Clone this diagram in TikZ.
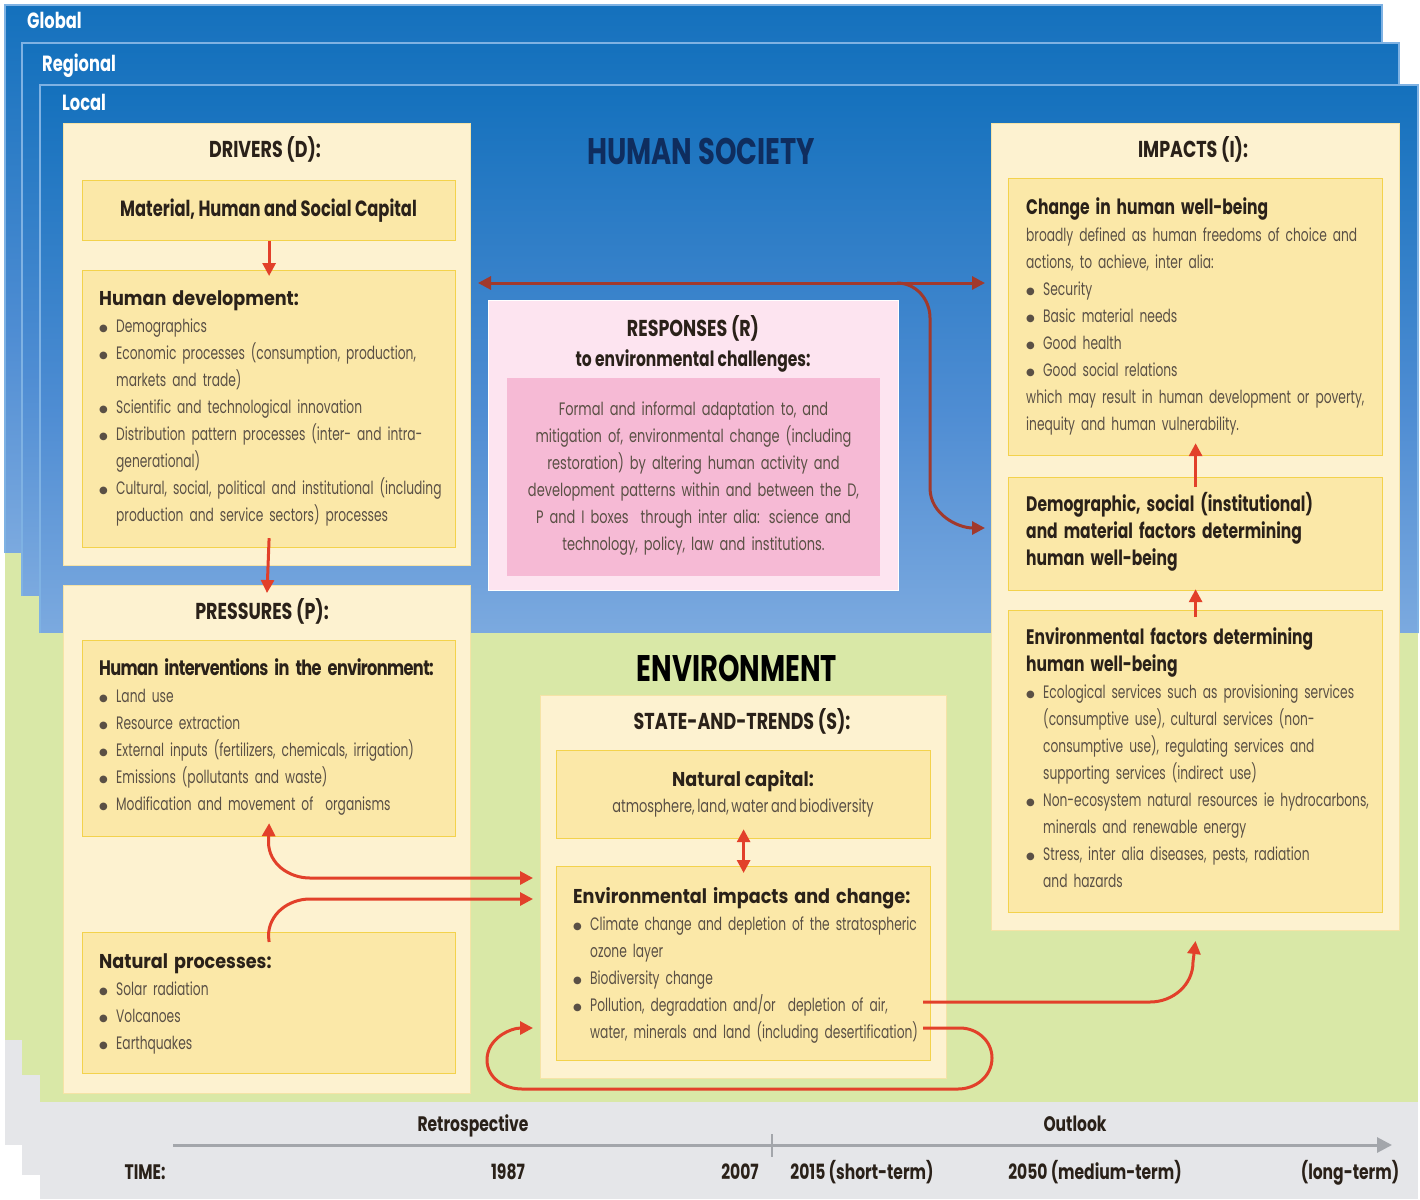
\documentclass[tikz,border=0pt]{standalone}
\usepackage{fontspec}
\usetikzlibrary{arrows.meta,calc}
\setmainfont{Poppins}
\newfontfamily\cond[FakeStretch=0.68,WordSpace=0.75]{Poppins}
\newfontfamily\condr[FakeStretch=0.72,WordSpace=0.75]{Poppins}
\newfontfamily\condb[FakeStretch=0.74]{Poppins}
\newfontfamily\headb[FakeStretch=0.76]{Poppins}
\newfontfamily\wideb[FakeStretch=0.88]{Poppins}
\newfontfamily\tightb[FakeStretch=0.77,LetterSpace=-3]{Poppins}
\newfontfamily\dejavu{DejaVu Sans}
\definecolor{skydeep}{HTML}{0A6CB9}
\definecolor{skymid}{HTML}{4F8DD3}
\definecolor{skylight}{HTML}{B3CDEE}
\definecolor{envgreen}{HTML}{D9E8A7}
\definecolor{timegray}{HTML}{E5E6E9}
\definecolor{sheetedge}{HTML}{7FB2E3}
\definecolor{boxout}{HTML}{FDF2D0}
\definecolor{boxoutedge}{HTML}{F5E3A6}
\definecolor{boxin}{HTML}{FBE8A8}
\definecolor{boxinedge}{HTML}{F3D24C}
\definecolor{pinkout}{HTML}{FDE4F0}
\definecolor{pinkin}{HTML}{F6BAD5}
\definecolor{txt}{HTML}{5A5045}
\definecolor{txtb}{HTML}{2A2119}
\definecolor{navy}{HTML}{0F2D5E}
\definecolor{arrred}{HTML}{E2402A}
\definecolor{arrdark}{HTML}{A1392C}
\definecolor{tgray}{HTML}{A3A6AB}
\pgfdeclareverticalshading{sky}{100bp}{color(0bp)=(skylight); color(45bp)=(skymid); color(80bp)=(skydeep); color(100bp)=(skydeep)}
\newcommand\bl{\makebox[17pt][l]{\raisebox{1.2pt}{\dejavu\fontsize{10}{10}\selectfont ●}}}
\newcommand\ind{\hspace*{17pt}}
\newcommand\fst{\rule{0pt}{20pt}}
\newcommand\bt{\wideb\bfseries\fontsize{20}{27}\selectfont\color{txtb}}
\newcommand\ct{\condb\bfseries\fontsize{21}{27}\selectfont\color{txtb}}
\begin{document}
\begin{tikzpicture}[x=1pt,y=-1pt,
  >={Triangle[length=13pt,width=13pt]},
  sheetline/.style={draw=sheetedge,line width=1.3pt},
  sheetlabel/.style={font=\condb\bfseries\fontsize{22}{24}\selectfont,text=white,anchor=base west,inner sep=0pt},
  outerbox/.style={draw=boxoutedge,fill=boxout,line width=1pt,anchor=north west,inner sep=0pt},
  innerbox/.style={draw=boxinedge,fill=boxin,line width=1.2pt,anchor=north west,inner sep=0pt},
  body/.style={font=\cond\fontsize{18}{27}\selectfont,text=txt,align=left,anchor=north west,inner sep=0pt,text width=#1},
  body/.default=365pt,
  head/.style={font=\headb\bfseries\fontsize{23}{26}\selectfont,text=txtb,anchor=base,inner sep=0pt},
  subhead/.style={font=\condb\bfseries\fontsize{21}{24}\selectfont,text=txtb,anchor=base,inner sep=0pt},
  bigtitle/.style={font=\condb\bfseries\fontsize{37}{40}\selectfont,anchor=base,inner sep=0pt},
  redarr/.style={draw=arrred,line width=3pt},
  darkarr/.style={draw=arrdark,line width=3pt},
  tlab/.style={font=\condb\bfseries\fontsize{21}{24}\selectfont,text=txtb,anchor=base,inner sep=0pt}
]
\useasboundingbox (0,0) rectangle (1420,1199);
\fill[white] (0,0) rectangle (1420,1199);
% ---------- sheets ----------
% global
\shade[shading=sky] (5,5) rectangle (1382,553);
\fill[envgreen] (5,553) rectangle (1382,1040);
\fill[timegray] (5,1040) rectangle (1382,1145);
\draw[sheetline] (5,553) -- (5,5) -- (1382,5) -- (1382,553);
% regional
\shade[shading=sky] (22,43) rectangle (1399,596);
\fill[envgreen] (22,596) rectangle (1399,1075);
\fill[timegray] (22,1075) rectangle (1399,1175);
\draw[sheetline] (22,596) -- (22,43) -- (1399,43) -- (1399,596);
% local
\shade[shading=sky] (40,85) rectangle (1418,633);
\fill[envgreen] (40,633) rectangle (1418,1102);
\fill[timegray] (40,1102) rectangle (1418,1199);
\draw[sheetline] (40,633) -- (40,85) -- (1418,85) -- (1418,633);
\node[sheetlabel] (lglobal) at (27,29) {Global};
\node[sheetlabel] (lregional) at (42,71) {Regional};
\node[sheetlabel] (llocal) at (62,110) {Local};
% ---------- big titles ----------
\node[bigtitle,text=navy] (hs) at (701,164) {HUMAN SOCIETY};
\node[bigtitle,text=black] (env) at (737,681) {ENVIRONMENT};
% ---------- drivers ----------
\node[outerbox,minimum width=407pt,minimum height=442pt] (drv) at (63,123) {};
\node[head] (drvt) at (265,157) {DRIVERS (D):};
\node[innerbox,minimum width=373pt,minimum height=60pt] (mat) at (82,180) {};
\node[subhead,font=\condb\bfseries\fontsize{22}{24}\selectfont] (matt) at (268.5,216) {Material, Human and Social Capital};
\node[innerbox,minimum width=373pt,minimum height=277pt] (hd) at (82,270) {};
\node[body] (hdt) at (99,285) {\fst{\bt Human development:}\\
\bl Demographics\\
\bl Economic processes (consumption, production,\\
\ind markets and trade)\\
\bl Scientific and technological innovation\\
\bl Distribution pattern processes (inter- and intra-\\
\ind generational)\\
\bl Cultural, social, political and institutional (including\\
\ind production and service sectors) processes};
% ---------- pressures ----------
\node[outerbox,minimum width=407pt,minimum height=508pt] (prs) at (63,585) {};
\node[head] (prst) at (262,619) {PRESSURES (P):};
\node[innerbox,minimum width=373pt,minimum height=196pt] (hint) at (82,640) {};
\node[body] (hintt) at (99,655) {\fst{\tightb\bfseries\fontsize{21}{27}\selectfont\color{txtb}Human interventions in the environment:}\\
\bl Land use\\
\bl Resource extraction\\
\bl External inputs (fertilizers, chemicals, irrigation)\\
\bl Emissions (pollutants and waste)\\
\bl Modification and movement of\ \ organisms};
\node[innerbox,minimum width=373pt,minimum height=141pt] (nproc) at (82,932) {};
\node[body] (nproct) at (99,948) {\fst{\bt Natural processes:}\\
\bl Solar radiation\\
\bl Volcanoes\\
\bl Earthquakes};
% ---------- responses ----------
\node[draw=white,fill=pinkout,line width=1pt,anchor=north west,inner sep=0pt,minimum width=410pt,minimum height=290pt] (resp) at (488,300) {};
\node[head] (respt1) at (693,336) {RESPONSES (R)};
\node[subhead] (respt2) at (693,366) {to environmental challenges:};
\node[fill=pinkin,anchor=north west,inner sep=0pt,minimum width=373pt,minimum height=198pt] (respin) at (507,378) {};
\node[body=372pt,font=\condr\fontsize{18}{27}\selectfont,align=center,anchor=north] (respint) at (693.5,395) {\fst Formal and informal adaptation to, and\\
mitigation of, environmental change (including\\
restoration) by altering human activity and\\
development patterns within and between the D,\\
P and I boxes\ \ through inter alia: science and\\
technology, policy, law and institutions.};
% ---------- impacts ----------
\node[outerbox,minimum width=408pt,minimum height=807pt] (imp) at (991,123) {};
\node[head] (impt) at (1193,157) {IMPACTS (I):};
\node[innerbox,minimum width=374pt,minimum height=277pt] (chg) at (1008,178) {};
\node[body] (chgt) at (1026,194) {\fst{\ct Change in human well-being}\\
broadly defined as human freedoms of choice and\\
actions, to achieve, inter alia:\\
\bl Security\\
\bl Basic material needs\\
\bl Good health\\
\bl Good social relations\\
which may result in human development or poverty,\\
inequity and human vulnerability.};
\node[innerbox,minimum width=374pt,minimum height=113pt] (demo) at (1008,477) {};
\node[body] (demot) at (1026,491) {\ct\fst Demographic, social (institutional)\\
and material factors determining\\
human well-being};
\node[innerbox,minimum width=374pt,minimum height=302pt] (envf) at (1008,610) {};
\node[body] (envft) at (1026,624) {\fst{\ct Environmental factors determining\\
human well-being}\\
\bl Ecological services such as provisioning services\\
\ind (consumptive use), cultural services (non-\\
\ind consumptive use), regulating services and\\
\ind supporting services (indirect use)\\
\bl Non-ecosystem natural resources ie hydrocarbons,\\
\ind minerals and renewable energy\\
\bl Stress, inter alia diseases, pests, radiation\\
\ind and hazards};
% ---------- state ----------
\node[outerbox,minimum width=406pt,minimum height=383pt] (state) at (540,695) {};
\node[head] (statet) at (742,729) {STATE-AND-TRENDS (S):};
\node[innerbox,minimum width=374pt,minimum height=88pt] (natcap) at (556,750) {};
\node[font=\bt,anchor=base,inner sep=0pt] (natcapt1) at (743,786) {Natural capital:};
\node[font=\condr\fontsize{18}{22}\selectfont,text=txt,anchor=base,inner sep=0pt] (natcapt2) at (743,812) {atmosphere, land, water and biodiversity};
\node[innerbox,minimum width=374pt,minimum height=194pt] (envimp) at (556,866) {};
\node[body] (envimpt) at (573,883) {\fst{\bt Environmental impacts and change:}\\
\bl Climate change and depletion of the stratospheric\\
\ind ozone layer\\
\bl Biodiversity change\\
\bl Pollution, degradation and/or\ \ depletion of air,\\
\ind water, minerals and land (including desertification)};
% ---------- helper levels ----------
\coordinate (y283) at (0,283);
\coordinate (y528) at (0,528);
\coordinate (y878) at (0,878);
\coordinate (y899) at (0,899);
\coordinate (y1002) at (0,1002);
\coordinate (y1028) at (0,1028);
% ---------- arrows ----------
\draw[redarr,->] (mat.south) -- ([yshift=-6pt]hd.north);
\draw[redarr,->] ([yshift=10pt]hd.south) -- ([yshift=-8pt]prs.north);
\draw[redarr,->] ([yshift=-10pt]demo.north) -- ([yshift=13pt]chg.south);
\draw[redarr,->] ([yshift=-7pt]envf.north) -- ([yshift=2pt]demo.south);
\draw[redarr,<->] ([yshift=10pt]natcap.south) -- ([yshift=-7pt]envimp.north);
\draw[darkarr,<->] ($(drv.east |- y283)+(7,0)$) -- ($(imp.west |- y283)+(-6,0)$);
\draw[darkarr,->] (897,283) to[out=0,in=90] (930,318) -- (930,488) to[out=-90,in=180] ($(imp.west |- y528)+(-6,0)$);
\draw[redarr,<->] ([yshift=14pt]hint.south) -- (268.5,842) to[out=-90,in=180] (310,878) -- ($(state.west |- y878)+(-7,0)$);
\draw[redarr,->] ([yshift=-10pt]nproc.north) -- (268.5,936) to[out=90,in=180] (310,899) -- ($(state.west |- y899)+(-7,0)$);
\draw[redarr,->] ($(envimp.east |- y1002)+(-8,0)$) -- (1150,1002) to[out=0,in=-90] (1193,962) -- ([yshift=-10pt]imp.south);
\draw[redarr,->] ($(envimp.east |- y1028)+(-8,0)$) -- (960,1028) to[out=0,in=90] (992,1058) to[out=-90,in=0] (958,1089) -- (522,1089) to[out=180,in=-90] (487,1060) to[out=90,in=180] ($(state.west |- y1028)+(-7,0)$);
% ---------- timeline ----------
\coordinate (t0) at (173,1145);
\coordinate (t1) at (1392,1145);
\coordinate (tk1) at (772,1134);
\coordinate (tk2) at (772,1157);
\draw[draw=tgray,line width=3pt,-{Triangle[length=15pt,width=15pt]}] (t0) -- (t1);
\draw[draw=tgray,line width=1.5pt] (tk1) -- (tk2);
\node[tlab] (retro) at (473,1131) {Retrospective};
\node[tlab] (outl) at (1075,1131) {Outlook};
\node[tlab] (time) at (145,1179) {TIME:};
\node[tlab] (y1987) at (508,1179) {1987};
\node[tlab] (y2007) at (740,1179) {2007};
\node[tlab] (y2015) at (862,1179) {2015 (short-term)};
\node[tlab] (y2050) at (1095,1179) {2050 (medium-term)};
\node[tlab] (ylong) at (1350,1179) {(long-term)};
\end{tikzpicture}
\end{document}
